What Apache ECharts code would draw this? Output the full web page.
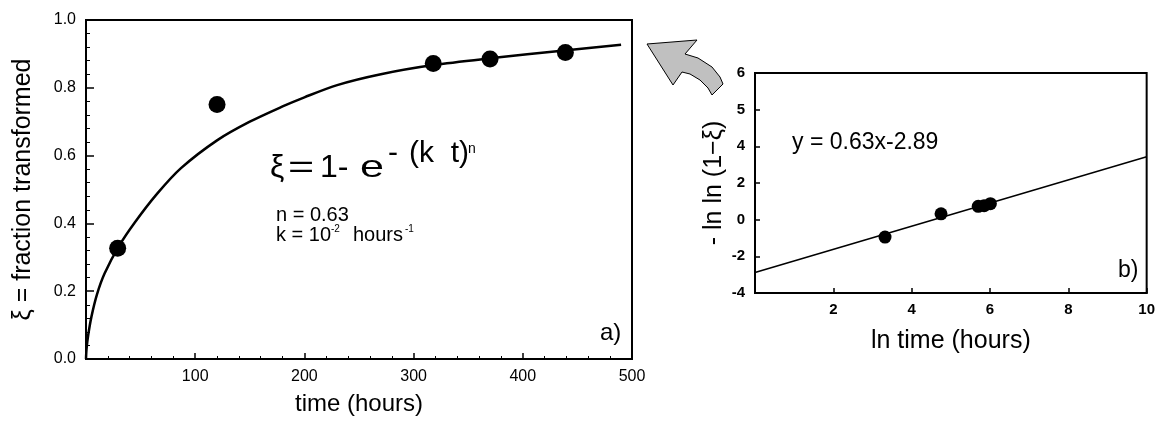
<!DOCTYPE html>
<html>
<head>
<meta charset="utf-8">
<script src="https://cdn.jsdelivr.net/npm/echarts@6/dist/echarts.min.js"></script>
<style>
  html, body { margin: 0; padding: 0; background: #fff; }
  #chart { width: 1158px; height: 422px; }
</style>
</head>
<body>
<div id="chart"></div>
<script>
// panel a) measured points
const timeHours = [29, 120, 318, 370, 439]
const fractionTransformed = [0.327, 0.751, 0.872, 0.885, 0.904]
// panel a) fitted curve
const fitTime = [0, 0.5, 2, 5, 10, 17, 30, 45, 65, 87, 120, 150, 180, 200, 230, 270, 318, 370, 438, 490]
const fitFraction = [0, 0.03, 0.07, 0.125, 0.19, 0.252, 0.332, 0.404, 0.487, 0.563, 0.645, 0.7, 0.745, 0.772, 0.808, 0.84, 0.867, 0.887, 0.91, 0.927]
// panel b) linearised points and fit line
const lnTime = [3.32, 4.75, 5.70, 5.85, 6.01]
const lnlnValue = [-0.95, 0.32, 0.73, 0.76, 0.87]
const fitLnTime = [0, 10]
const fitLnValue = [-2.88, 3.43]
// panel b) y tick labels as printed in the figure
const yTickLabelsB = ['-4', '-2', '0', '2', '4', '5', '6']

const FONT = "'Liberation Sans', Arial, sans-serif"
const pairs = (xs, ys) => xs.map((x, i) => [x, ys[i]])
const txt = (x, y, text, size, scaleX = 1) => ({
  type: 'text', x, y, scaleX, style: { text, font: size + 'px ' + FONT, fill: '#000' }
})

const chart = echarts.init(document.getElementById('chart'))

const axisBase = {
  axisLine: { onZero: false, lineStyle: { color: '#000', width: 2 } },
  splitLine: { show: false }
}

const option = {
  backgroundColor: '#fff',
  animation: false,
  grid: [
    { left: 86, top: 20, width: 546, height: 339, show: true, borderColor: '#000', borderWidth: 2 },
    { left: 755, top: 73, width: 392, height: 220, show: true, borderColor: '#000', borderWidth: 2 }
  ],
  xAxis: [
    {
      ...axisBase,
      gridIndex: 0, type: 'value', min: 0, max: 500, interval: 100,
      name: 'time (hours)', nameLocation: 'middle', nameGap: 33,
      nameTextStyle: { color: '#000', fontFamily: FONT, fontSize: 24 },
      axisTick: { inside: true, length: 6, lineStyle: { color: '#000', width: 1.5 } },
      minorTick: { show: true, splitNumber: 5, length: 3, lineStyle: { color: '#000', width: 1 } },
      axisLabel: { showMinLabel: false, color: '#000', fontFamily: FONT, fontSize: 16, margin: 10 }
    },
    {
      ...axisBase,
      gridIndex: 1, type: 'value', min: 0, max: 10, interval: 2,
      name: 'ln time (hours)', nameLocation: 'middle', nameGap: 36,
      nameTextStyle: { color: '#000', fontFamily: FONT, fontSize: 25 },
      axisTick: { inside: true, length: 5, lineStyle: { color: '#000', width: 1.5 } },
      axisLabel: { showMinLabel: false, color: '#000', fontFamily: FONT, fontSize: 15, fontWeight: 'bold', margin: 9 }
    }
  ],
  yAxis: [
    {
      ...axisBase,
      gridIndex: 0, type: 'value', min: 0, max: 1, interval: 0.2,
      name: 'ξ = fraction transformed', nameLocation: 'middle', nameGap: 50,
      nameTextStyle: { color: '#000', fontFamily: FONT, fontSize: 25 },
      axisTick: { inside: true, length: 8, lineStyle: { color: '#000', width: 1.5 } },
      minorTick: { show: true, splitNumber: 5, length: 4, lineStyle: { color: '#000', width: 1 } },
      axisLabel: { color: '#000', fontFamily: FONT, fontSize: 16, margin: 10, formatter: v => v.toFixed(1) }
    },
    {
      ...axisBase,
      gridIndex: 1, type: 'value', min: -4, max: 8, interval: 2,
      name: '- ln ln (1−ξ)', nameLocation: 'middle', nameGap: 28,
      nameTextStyle: { color: '#000', fontFamily: FONT, fontSize: 25 },
      axisTick: { inside: true, length: 5, lineStyle: { color: '#000', width: 1.5 } },
      axisLabel: {
        color: '#000', fontFamily: FONT, fontSize: 15, fontWeight: 'bold', margin: 10,
        formatter: v => yTickLabelsB[Math.round((v + 4) / 2)]
      }
    }
  ],
  series: [
    {
      type: 'line', xAxisIndex: 0, yAxisIndex: 0,
      data: pairs(fitTime, fitFraction),
      smooth: 0.3, showSymbol: false,
      lineStyle: { color: '#000', width: 2.5 }
    },
    {
      type: 'scatter', xAxisIndex: 0, yAxisIndex: 0,
      data: pairs(timeHours, fractionTransformed),
      symbol: 'circle', symbolSize: 17, itemStyle: { color: '#000', opacity: 1 }
    },
    {
      type: 'line', xAxisIndex: 1, yAxisIndex: 1,
      data: pairs(fitLnTime, fitLnValue),
      showSymbol: false, lineStyle: { color: '#000', width: 1.5 }
    },
    {
      type: 'scatter', xAxisIndex: 1, yAxisIndex: 1,
      data: pairs(lnTime, lnlnValue),
      symbol: 'circle', symbolSize: 13, itemStyle: { color: '#000', opacity: 1 }
    }
  ],
  graphic: [
    // equation of panel a)
    txt(270, 152, 'ξ', 32),
    txt(288, 152, '=', 32, 1.4),
    txt(320, 152, '1-', 32),
    txt(360, 152, 'e', 32, 1.35),
    txt(388, 139, '-', 30),
    txt(409, 139, '(k  t)', 30),
    txt(468, 142, 'n', 14),
    txt(276, 205, 'n = 0.63', 20),
    txt(276, 225, 'k = 10', 20),
    txt(331, 224, '-2', 10),
    txt(353, 225, 'hours', 20),
    txt(405, 224, '-1', 10),
    txt(600, 321, 'a)', 24),
    // panel b)
    txt(792, 131, 'y = 0.63x-2.89', 23),
    txt(1118, 259, 'b)', 23),
    // grey arrow from b) to a)
    {
      type: 'polygon',
      shape: {
        points: [[647, 44], [697, 40], [685, 54], [698, 58], [712, 67], [720, 77], [723, 84],
          [712, 95], [708, 88], [700, 80], [690, 74], [682, 72], [673, 85]]
      },
      style: { fill: '#c0c0c0', stroke: '#000', lineWidth: 1 }
    }
  ]
}

chart.setOption(option)
window.addEventListener('resize', () => chart.resize())
</script>
</body>
</html>
